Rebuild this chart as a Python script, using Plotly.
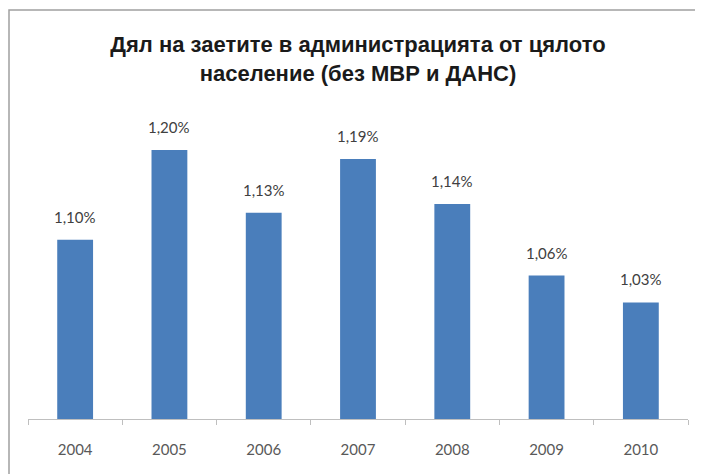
import plotly.graph_objects as go

years = ["2004", "2005", "2006", "2007", "2008", "2009", "2010"]
shares = [1.10, 1.20, 1.13, 1.19, 1.14, 1.06, 1.03]
labels = ["1,10%", "1,20%", "1,13%", "1,19%", "1,14%", "1,06%", "1,03%"]
title_text = "Дял на заетите в администрацията от цялото<br>население (без МВР и ДАНС)"

# page body has an 8px default margin, so the figure is sized to fit the window
W, H = 695, 466
ml, mr, mt, mb = 20, 15, 100, 55
pw, ph = W - ml - mr, H - mt - mb

fig = go.Figure(go.Bar(
    x=years, y=shares,
    marker=dict(color="#4A7EBB", line=dict(width=0)),
    hoverinfo="skip",
))

# on a category axis, annotation x is the category index
for i, (v, lab) in enumerate(zip(shares, labels)):
    fig.add_annotation(
        x=i, y=v, text=lab, showarrow=False,
        yanchor="bottom", yshift=12,
        font=dict(family="Lato, Open Sans, sans-serif", size=15, color="#404040"),
    )

def px_x(p):
    return (p - ml) / pw

def px_y(p):
    return (H - mb - p) / ph

fig.update_layout(
    width=W, height=H,
    margin=dict(l=ml, r=mr, t=mt, b=mb, autoexpand=False),
    paper_bgcolor="white", plot_bgcolor="white",
    bargap=0.62,
    showlegend=False,
    title=dict(
        text=title_text,
        x=350 / W, xanchor="center",
        y=1 - 44 / H, yanchor="middle", yref="container",
        font=dict(family="Liberation Sans, Arial, sans-serif", size=22, color="#1a1a1a", weight="bold"),
    ),
    xaxis=dict(
        type="category", automargin=False,
        showline=True, linecolor="#BFBFBF", linewidth=1,
        ticks="outside", tickson="boundaries", ticklen=5, tickcolor="#BFBFBF",
        tickfont=dict(family="Lato, Open Sans, sans-serif", size=15, color="#595959"),
        ticklabelstandoff=17, tickangle=0,
        showgrid=False,
    ),
    yaxis=dict(
        range=[0.9, 1.247], visible=False, showgrid=False, zeroline=False,
    ),
    shapes=[
        dict(type="rect", xref="paper", yref="paper",
             x0=px_x(1), x1=px_x(692), y0=px_y(H + 5), y1=px_y(2),
             line=dict(color="#A0A0A0", width=1.5), fillcolor="rgba(0,0,0,0)", layer="below"),
    ],
)

fig.write_html("out.html")
